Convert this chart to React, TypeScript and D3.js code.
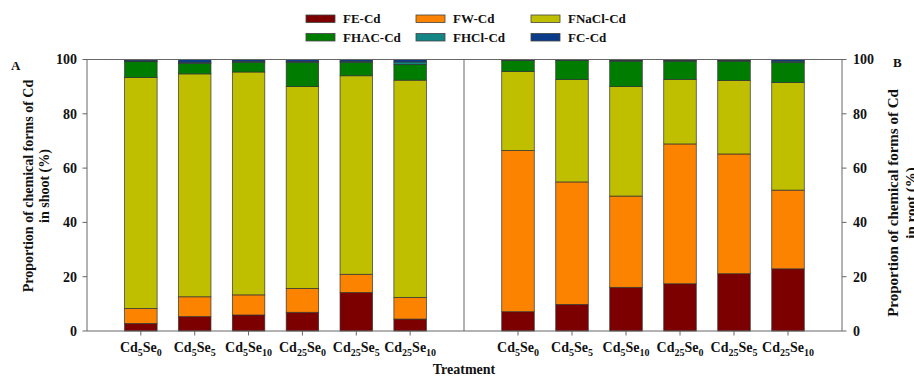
import React from "react";
import * as d3 from "d3";

const cdLevels = ["5", "5", "5", "25", "25", "25"];
const seLevels = ["0", "5", "10", "0", "5", "10"];
const treatments = cdLevels.map((c, i) => `Cd${c}Se${seLevels[i]}`);

const seriesKeys = ["FE-Cd", "FW-Cd", "FNaCl-Cd", "FHAC-Cd", "FHCl-Cd", "FC-Cd"];
const seriesColors = ["#7c0000", "#fb8300", "#bfbf00", "#007d00", "#138585", "#0a3c8a"];

// Shoot (panel A)
const shootFE = [2.8, 5.3, 5.9, 6.9, 14.2, 4.4];
const shootFW = [5.5, 7.3, 7.4, 8.8, 6.7, 8.0];
const shootFNaCl = [85.1, 82.1, 82.1, 74.3, 73.1, 80.0];
const shootFHAC = [5.8, 3.9, 3.6, 8.9, 5.0, 5.8];
const shootFHCl = [0.3, 0.4, 0.4, 0.4, 0.4, 0.9];
const shootFC = [0.5, 1.0, 0.6, 0.7, 0.6, 0.9];

// Root (panel B)
const rootFE = [7.1, 9.8, 16.1, 17.4, 21.1, 22.9];
const rootFW = [59.4, 45.1, 33.6, 51.5, 44.1, 29.0];
const rootFNaCl = [29.1, 37.7, 40.3, 23.8, 27.1, 39.6];
const rootFHAC = [4.0, 7.0, 9.4, 6.7, 7.1, 7.4];
const rootFHCl = [0.2, 0.2, 0.3, 0.3, 0.3, 0.5];
const rootFC = [0.2, 0.2, 0.3, 0.3, 0.3, 0.6];

const yTicks = [0, 20, 40, 60, 80, 100];

const FONT = "'Liberation Serif', 'Times New Roman', serif";

function buildRows(cols: number[][]) {
  return treatments.map((t, i) => {
    const row: any = { t };
    seriesKeys.forEach((k, j) => (row[k] = cols[j][i]));
    return row;
  });
}

const shootRows = buildRows([shootFE, shootFW, shootFNaCl, shootFHAC, shootFHCl, shootFC]);
const rootRows = buildRows([rootFE, rootFW, rootFNaCl, rootFHAC, rootFHCl, rootFC]);

const W = 914;
const H = 377;
const left = 87;
const mid = 464;
const right = 842;
const top = 59.5;
const bottom = 331;
const barW = 32.5;

export default function App() {
  const y = d3.scaleLinear().domain([0, 100]).range([bottom, top]);
  const xA = d3.scalePoint<string>().domain(treatments).range([left, mid]).padding(1);
  const xB = d3.scalePoint<string>().domain(treatments).range([mid, right]).padding(1);
  const stack = d3.stack<any>().keys(seriesKeys);
  const panels = [
    { x: xA, data: stack(shootRows) },
    { x: xB, data: stack(rootRows) },
  ];

  const legendCols = [306, 416, 531];
  const legendRows = [15, 33.5];

  return (
    <svg
      width={W}
      height={H}
      style={{ position: "absolute", left: 0, top: 0, background: "#fff" }}
      fontFamily={FONT}
      fontWeight="bold"
    >
      {/* legend */}
      {seriesKeys.map((k, i) => {
        const col = i % 3;
        const row = Math.floor(i / 3);
        const lx = legendCols[col];
        const ly = legendRows[row];
        return (
          <g key={k}>
            <rect x={lx} y={ly} width={29} height={7.5} fill={seriesColors[i]} stroke="#444" strokeWidth={0.8} />
            <text x={lx + 37} y={ly + 8} fontSize={13} fill="#111">
              {k}
            </text>
          </g>
        );
      })}

      {/* bars */}
      {panels.map((p, pi) => (
        <g key={pi}>
          {p.data.map((s, si) => (
            <g key={si} fill={seriesColors[si]}>
              {s.map((d: any, di: number) => (
                <rect
                  key={di}
                  x={(p.x(d.data.t) as number) - barW / 2}
                  y={y(d[1])}
                  width={barW}
                  height={Math.max(0, y(d[0]) - y(d[1]))}
                  stroke="#333"
                  strokeWidth={0.7}
                />
              ))}
            </g>
          ))}
        </g>
      ))}

      {/* frame */}
      <g stroke="#666" strokeWidth={1} fill="none">
        <line x1={left} x2={right} y1={top} y2={top} />
        <line x1={left} x2={right} y1={bottom} y2={bottom} />
        <line x1={left} x2={left} y1={top} y2={bottom} />
        <line x1={right} x2={right} y1={top} y2={bottom} />
        <line x1={mid} x2={mid} y1={top} y2={bottom} />
      </g>

      {/* y ticks left */}
      {yTicks.map((t) => (
        <g key={"l" + t}>
          <line x1={left - 4.5} x2={left} y1={y(t)} y2={y(t)} stroke="#666" />
          <text x={77} y={y(t)} dy="0.35em" textAnchor="end" fontSize={14} fill="#111">
            {t}
          </text>
        </g>
      ))}
      {/* y ticks right */}
      {yTicks.map((t) => (
        <g key={"r" + t}>
          <line x1={right} x2={right + 4.5} y1={y(t)} y2={y(t)} stroke="#666" />
          <text x={853} y={y(t)} dy="0.35em" textAnchor="start" fontSize={14} fill="#111">
            {t}
          </text>
        </g>
      ))}

      {/* x ticks + labels */}
      {panels.map((p, pi) =>
        treatments.map((t, i) => {
          const cx = p.x(t) as number;
          return (
            <g key={pi + "-" + t}>
              <line x1={cx} x2={cx} y1={bottom} y2={bottom + 4.5} stroke="#666" />
              <text x={cx} y={352} textAnchor="middle" fontSize={14} fill="#111">
                <tspan>Cd</tspan>
                <tspan fontSize={10} dy={4}>{cdLevels[i]}</tspan>
                <tspan dy={-4}>Se</tspan>
                <tspan fontSize={10} dy={4}>{seLevels[i]}</tspan>
              </text>
            </g>
          );
        })
      )}

      <text x={mid} y={374} textAnchor="middle" fontSize={14} fill="#111">
        Treatment
      </text>

      {/* panel letters */}
      <text x={11} y={70} fontSize={13} fill="#111">A</text>
      <text x={893} y={67} fontSize={13} fill="#111">B</text>

      {/* y titles */}
      <text transform="translate(28,186) rotate(-90)" textAnchor="middle" fontSize={14} fill="#111">
        <tspan x={0} dy="0.35em">Proportion of chemical forms of Cd</tspan>
        <tspan x={0} dy="1.15em">in shoot (%)</tspan>
      </text>
      <text transform="translate(893,203) rotate(-90)" textAnchor="middle" fontSize={15} fill="#111">
        <tspan x={0} dy="0.35em">Proportion of chemical forms of Cd</tspan>
        <tspan x={0} dy="1.15em">in root (%)</tspan>
      </text>
    </svg>
  );
}
